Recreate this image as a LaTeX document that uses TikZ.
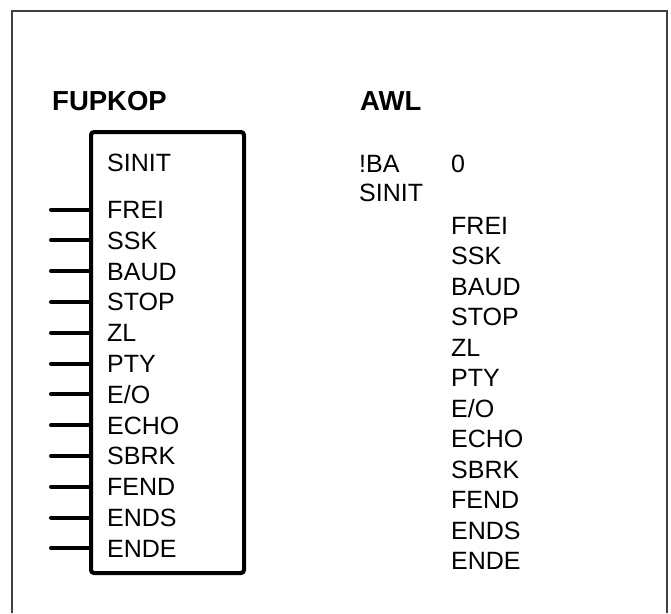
\documentclass[tikz,border=0pt]{standalone}
\usepackage{fontspec}
\setmainfont{Liberation Sans}
\usetikzlibrary{positioning}

\begin{document}
\begin{tikzpicture}[x=1pt, y=-1pt,
    lbl/.style={anchor=west, inner sep=0pt, text height=18pt, text depth=0pt, font=\fontsize{25}{30}\selectfont},
    head/.style={anchor=west, inner sep=0pt, text height=20pt, text depth=0pt, font=\fontsize{27.5}{32}\selectfont\bfseries},
    fbbox/.style={draw, line width=4pt, rounded corners=3pt, minimum width=153pt, minimum height=441pt, inner sep=0pt},
    pinline/.style={line width=4pt, line cap=round},
    frame/.style={draw=black!75, line width=1.2pt}]
\useasboundingbox (0,0) rectangle (671,613);
\coordinate (fl) at (12,613);
\coordinate (fr) at (667,613);
\draw[frame] (fl) |- (667,11) -- (fr);
\node[head] (fupkop) at (52,100) {FUPKOP};
\node[head] (awl) at (360,100) {AWL};
% function block
\node[fbbox] (fb) at (167.5,352.5) {};
\node[lbl] (sinit) at (107,162) {SINIT};
% instruction list
\node[lbl] (ba) at (359,163) {!BA};
\node[lbl] (bazero) at (451,163) {0};
\node[lbl, below=11pt of ba.south west, anchor=north west] (awlsinit) {SINIT};
\foreach \nm [count=\i from 0] in {FREI,SSK,BAUD,STOP,ZL,PTY,E/O,ECHO,SBRK,FEND,ENDS,ENDE} {
  \node[lbl] (in\i) at (107,209.5+30.8*\i) {\nm};
  \coordinate (pin\i) at (51,209.5+30.8*\i);
  \draw[pinline] (pin\i) -- (pin\i -| fb.west);
  \node[lbl] (par\i) at (451,225+30.5*\i) {\nm};
}
\end{tikzpicture}
\end{document}
